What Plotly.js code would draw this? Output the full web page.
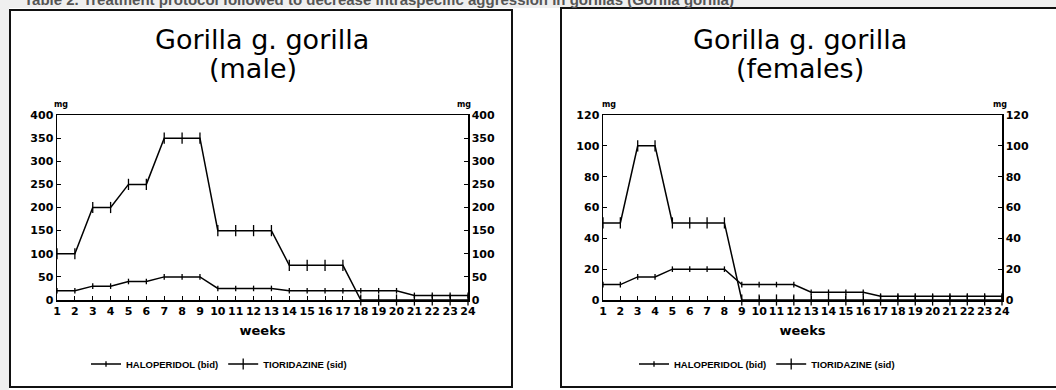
<!DOCTYPE html>
<html>
<head>
<meta charset="utf-8">
<script src="https://cdn.plot.ly/plotly-3.0.1.min.js"></script>
<style>html,body{margin:0;padding:0;background:#fff;}#chart{width:1056px;height:390px;}</style>
</head>
<body>
<div id="chart"></div>
<script>
// ---- data ----
const weeks = [1,2,3,4,5,6,7,8,9,10,11,12,13,14,15,16,17,18,19,20,21,22,23,24];
const maleHaloperidol   = [20,20,30,30,40,40,50,50,50,25,25,25,25,20,20,20,20,20,20,20,10,10,10,10];
const maleTioridazine   = [100,100,200,200,250,250,350,350,350,150,150,150,150,75,75,75,75,0,0,0,0,0,0,0];
const femaleHaloperidol = [10,10,15,15,20,20,20,20,10,10,10,10,5,5,5,5,2.5,2.5,2.5,2.5,2.5,2.5,2.5,2.5];
const femaleTioridazine = [50,50,100,100,50,50,50,50,0,0,0,0,0,0,0,0,0,0,0,0,0,0,0,0];
const seriesNames = ['HALOPERIDOL (bid)', 'TIORIDAZINE (sid)'];
const panelTitles = ['Gorilla g. gorilla', 'Gorilla g. gorilla'];
const panelSubtitles = ['(male)', '(females)'];
const maleTicks = [0,50,100,150,200,250,300,350,400];
const femaleTicks = [0,20,40,60,80,100,120];
const xTitle = 'weeks';
const unitLabel = 'mg';
const caption = 'Table 2. Treatment protocol followed to decrease intraspecific aggression in gorillas (Gorilla gorilla)';

// ---- layout helpers (pixel -> paper) ----
const W = 1056, H = 390;
const px = x => x / W;
const py = y => 1 - y / H;

const tickFont = {family: 'DejaVu Sans', size: 11, color: '#000', weight: 700};
const legFont = {family: 'Liberation Sans', size: 9.5, color: '#000', weight: 700};

function series(x, y, name, xa, ya, legend, isThio) {
  return {
    type: 'scatter', mode: 'lines+markers', x: x, y: y, name: name,
    xaxis: xa, yaxis: ya, legend: legend, cliponaxis: false,
    line: {color: '#000', width: 1.5},
    marker: {symbol: 'line-ns-open', size: isThio ? 8 : 4, color: '#000', line: {color: '#000', width: 1.3}}
  };
}
// invisible companion so that the right-hand (mirrored) axis is drawn
function ghost(x, y, xa, ya) {
  return {type: 'scatter', mode: 'lines', x: x, y: y, xaxis: xa, yaxis: ya,
          opacity: 0, line: {width: 0}, showlegend: false, hoverinfo: 'skip'};
}

const traces = [
  series(weeks, maleHaloperidol, seriesNames[0], 'x', 'y', 'legend', false),
  series(weeks, maleTioridazine, seriesNames[1], 'x', 'y', 'legend', true),
  ghost(weeks, maleTioridazine, 'x', 'y2'),
  series(weeks, femaleHaloperidol, seriesNames[0], 'x2', 'y3', 'legend2', false),
  series(weeks, femaleTioridazine, seriesNames[1], 'x2', 'y3', 'legend2', true),
  ghost(weeks, femaleTioridazine, 'x2', 'y4')
];

function xAxis(d0, d1, anchor) {
  return {
    domain: [px(d0), px(d1)], anchor: anchor, range: [1, 24],
    tickmode: 'array', tickvals: weeks, ticktext: weeks.map(String), tickangle: 0,
    ticks: 'inside', ticklen: 4, tickwidth: 1, tickcolor: '#000',
    showline: true, mirror: true, linecolor: '#000', linewidth: 1.5,
    showgrid: false, zeroline: false, tickfont: tickFont, fixedrange: true,
    title: {text: xTitle, font: {family: 'DejaVu Sans', size: 13, color: '#000', weight: 700}, standoff: 9}
  };
}
function yAxis(ticks, max, anchor, side, overlay) {
  const a = {
    domain: [py(300), py(115)], anchor: anchor, side: side, range: [0, max],
    tickmode: 'array', tickvals: ticks, ticktext: ticks.map(String),
    ticks: 'inside', ticklen: 4, tickwidth: 1, tickcolor: '#000',
    showline: true, linecolor: '#000', linewidth: 1.5,
    showgrid: false, zeroline: false, tickfont: tickFont, fixedrange: true
  };
  if (overlay) a.overlaying = overlay;
  return a;
}

function ann(text, x, y, size, opts) {
  return Object.assign({
    text: text, xref: 'paper', yref: 'paper', x: px(x), y: py(y),
    xanchor: 'center', yanchor: 'middle', showarrow: false,
    font: {family: 'DejaVu Sans', size: size, color: '#000'}
  }, opts || {});
}

const unitFont = {family: 'DejaVu Sans', size: 8, color: '#000', weight: 700};

const layout = {
  width: W, height: H, margin: {l: 0, r: 0, t: 0, b: 0},
  paper_bgcolor: '#ffffff', plot_bgcolor: 'rgba(0,0,0,0)',
  showlegend: true,
  xaxis: xAxis(57, 468, 'y'),
  yaxis: yAxis(maleTicks, 400, 'x', 'left'),
  yaxis2: yAxis(maleTicks, 400, 'x', 'right', 'y'),
  xaxis2: xAxis(603, 1002, 'y3'),
  yaxis3: yAxis(femaleTicks, 120, 'x2', 'left'),
  yaxis4: yAxis(femaleTicks, 120, 'x2', 'right', 'y3'),
  legend: {orientation: 'h', x: px(86), y: py(364), xanchor: 'left', yanchor: 'middle',
           font: legFont, bgcolor: 'rgba(0,0,0,0)', itemwidth: 30, tracegroupgap: 0},
  legend2: {orientation: 'h', x: px(634), y: py(364), xanchor: 'left', yanchor: 'middle',
            font: legFont, bgcolor: 'rgba(0,0,0,0)', itemwidth: 30, tracegroupgap: 0},
  shapes: [
    {type: 'rect', xref: 'paper', yref: 'paper', x0: 0, x1: 1, y0: py(8), y1: 1, fillcolor: '#efefef', line: {width: 0}, layer: 'below'},
    {type: 'rect', xref: 'paper', yref: 'paper', x0: 0, x1: px(9), y0: 0, y1: 1, fillcolor: '#efefef', line: {width: 0}, layer: 'below'},
    {type: 'rect', xref: 'paper', yref: 'paper', x0: px(10), x1: px(512), y0: py(387), y1: py(10), fillcolor: '#ffffff', line: {color: '#111', width: 2}, layer: 'below'},
    {type: 'rect', xref: 'paper', yref: 'paper', x0: px(561), x1: px(1070), y0: py(387), y1: py(8), fillcolor: '#ffffff', line: {color: '#111', width: 2}, layer: 'below'}
  ],
  annotations: [
    ann(caption, 22, 10, 15, {xanchor: 'left', yanchor: 'bottom', font: {family: 'Liberation Sans', size: 15, color: '#555', weight: 700}}),
    ann(panelTitles[0], 262, 40, 27),
    ann(panelSubtitles[0], 253, 68, 27),
    ann(panelTitles[1], 800, 40, 27),
    ann(panelSubtitles[1], 800, 68, 27),
    ann(unitLabel, 61, 105, 8, {font: unitFont}),
    ann(unitLabel, 464, 105, 8, {font: unitFont}),
    ann(unitLabel, 609, 105, 8, {font: unitFont}),
    ann(unitLabel, 1000, 105, 8, {font: unitFont})
  ]
};

Plotly.newPlot('chart', traces, layout, {displayModeBar: false, staticPlot: true});
</script>
</body>
</html>
